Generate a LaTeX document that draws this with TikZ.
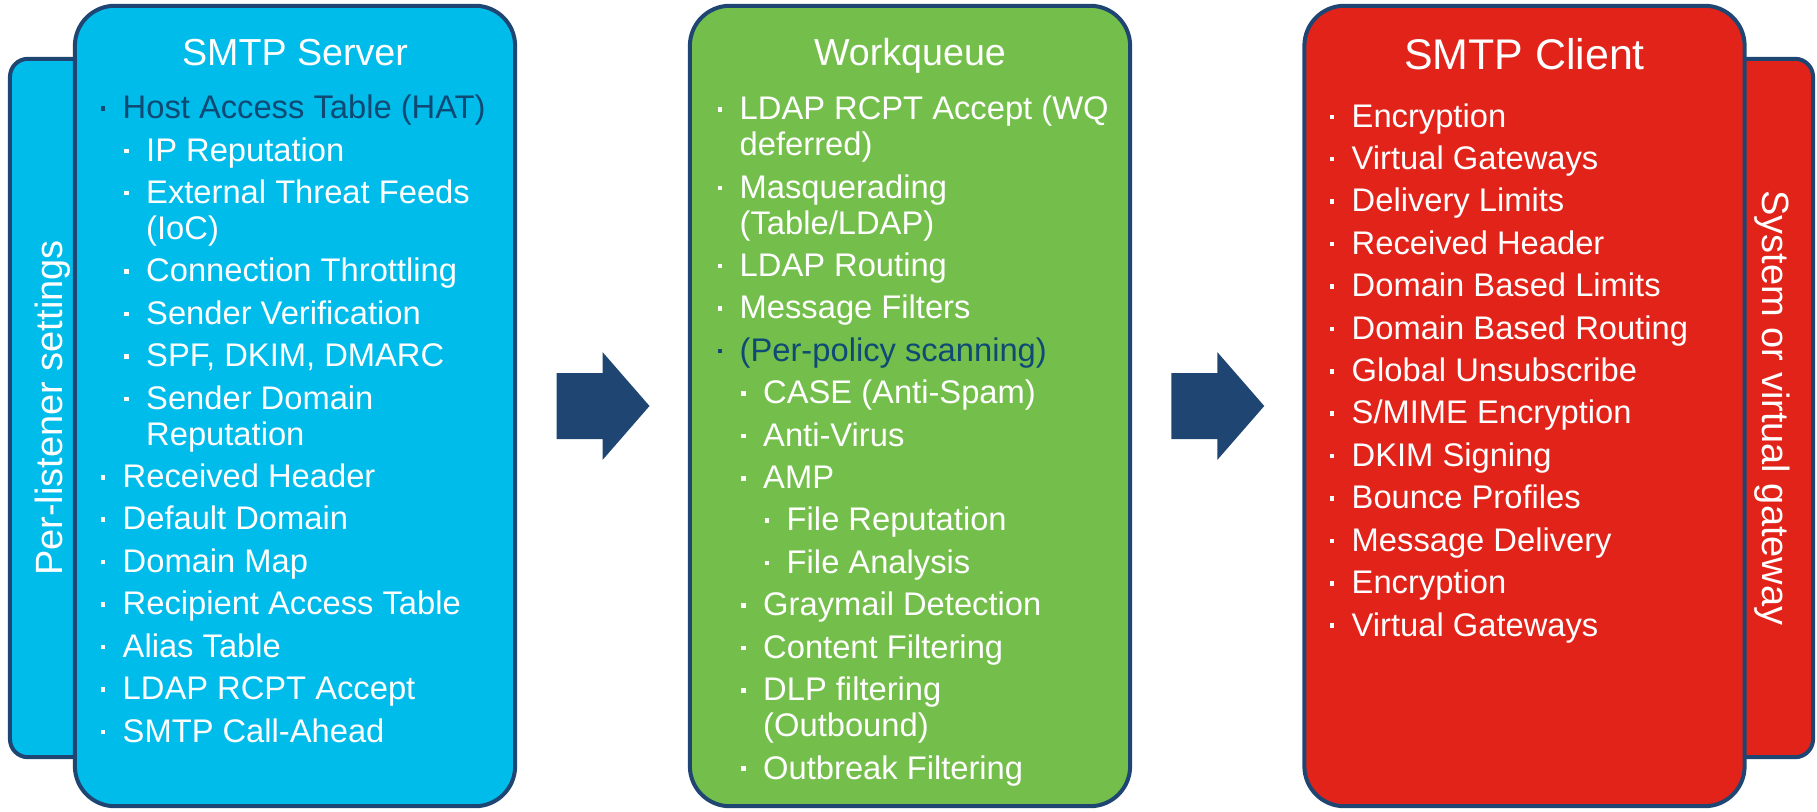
\documentclass[tikz,border=0pt]{standalone}
\usepackage{fontspec}
\setmainfont{Liberation Sans}
\usetikzlibrary{calc}

\definecolor{navy}{HTML}{1F4673}
\definecolor{deepnavy}{HTML}{0E4A74}
\definecolor{ciscoblue}{HTML}{00BCEB}
\definecolor{ciscogreen}{HTML}{74BF4B}
\definecolor{ciscored}{HTML}{E2231A}

% bullet list helpers
\newcommand\bu{\makebox[0.22cm][l]{\rule[0.08cm]{0.045cm}{0.045cm}}}
\newcommand\itA[1]{\bu #1}
\newcommand\itB[1]{\hspace*{0.235cm}\bu #1}
\newcommand\itC[1]{\hspace*{0.47cm}\bu #1}
\newcommand\goA[1]{\hspace*{0.22cm}#1}
\newcommand\goB[1]{\hspace*{0.455cm}#1}
\newcommand\nx{\\[0.064cm]}

\tikzset{
  panelbox/.style={draw=navy, line width=0.04cm, rounded corners=0.4cm, minimum width=4.4cm, minimum height=8cm, inner sep=0},
  tabbox/.style={draw=navy, line width=0.04cm, rounded corners=0.18cm, minimum height=6.98cm, inner sep=0},
  titletext/.style={text=white, anchor=base, inner sep=0, font=\fontsize{10.7pt}{12pt}\selectfont},
  % lists are placed by the baseline of their last line
  itemtext/.style={text=white, anchor=base west, align=left, inner sep=0, font=\fontsize{9.3pt}{10.24pt}\selectfont},
  sidetext/.style={text=white, anchor=base, inner sep=0, font=\fontsize{10.8pt}{12pt}\selectfont},
}

\begin{document}
\begin{tikzpicture}[x=0.01cm, y=-0.01cm]
\useasboundingbox (0,0) rectangle (1817,812);

% tabs behind the boxes
\node[tabbox, fill=ciscoblue, minimum width=1.3cm] (listener) at (75,408) {};
\node[tabbox, fill=ciscored, minimum width=1.23cm] (gateway) at (1751.5,408) {};

% the three stages
\node[panelbox, fill=ciscoblue] (server) at (295,406) {};
\node[panelbox, fill=ciscogreen] (queue) at (910,406) {};
\node[panelbox, fill=ciscored] (client) at (1524.5,406) {};

\node[sidetext, rotate=90] (perlistener) at (62,408) {Per-listener settings};
\node[sidetext, rotate=-90] (sysgateway) at (1762,408) {System or virtual gateway};

\node[titletext] (servertitle) at (295,65) {SMTP Server};
\node[titletext] (queuetitle) at (910,65) {Workqueue};
\node[titletext, font=\fontsize{12.2pt}{14pt}\selectfont] (clienttitle) at (1524.5,70) {SMTP Client};

\node[itemtext] (serverlist) at (100,742) {%
{\color{deepnavy}\itA{Host Access Table (HAT)}}\nx
\itB{IP Reputation}\nx
\itB{External Threat Feeds}\\
\goB{(IoC)}\nx
\itB{Connection Throttling}\nx
\itB{Sender Verification}\nx
\itB{SPF, DKIM, DMARC}\nx
\itB{Sender Domain}\\
\goB{Reputation}\nx
\itA{Received Header}\nx
\itA{Default Domain}\nx
\itA{Domain Map}\nx
\itA{Recipient Access Table}\nx
\itA{Alias Table}\nx
\itA{LDAP RCPT Accept}\nx
\itA{SMTP Call-Ahead}};

\node[itemtext] (queuelist) at (717,779) {%
\itA{LDAP RCPT Accept (WQ}\\
\goA{deferred)}\nx
\itA{Masquerading}\\
\goA{(Table/LDAP)}\nx
\itA{LDAP Routing}\nx
\itA{Message Filters}\nx
{\color{deepnavy}\itA{(Per-policy scanning)}}\nx
\itB{CASE (Anti-Spam)}\nx
\itB{Anti-Virus}\nx
\itB{AMP}\nx
\itC{File Reputation}\nx
\itC{File Analysis}\nx
\itB{Graymail Detection}\nx
\itB{Content Filtering}\nx
\itB{DLP filtering}\\
\goB{(Outbound)}\nx
\itB{Outbreak Filtering}};

\node[itemtext] (clientlist) at (1329,636) {%
\itA{Encryption}\nx
\itA{Virtual Gateways}\nx
\itA{Delivery Limits}\nx
\itA{Received Header}\nx
\itA{Domain Based Limits}\nx
\itA{Domain Based Routing}\nx
\itA{Global Unsubscribe}\nx
\itA{S/MIME Encryption}\nx
\itA{DKIM Signing}\nx
\itA{Bounce Profiles}\nx
\itA{Message Delivery}\nx
\itA{Encryption}\nx
\itA{Virtual Gateways}};

% block arrows between the stages
\foreach \a/\b in {server/queue, queue/client}
  \fill[navy] ($(\a.east)!0.5!(\b.west)$) ++(-46,-33) -- ++(46,0) -- ++(0,-21)
    -- ++(47,54) -- ++(-47,54) -- ++(0,-21) -- ++(-46,0) -- cycle;
\end{tikzpicture}
\end{document}
